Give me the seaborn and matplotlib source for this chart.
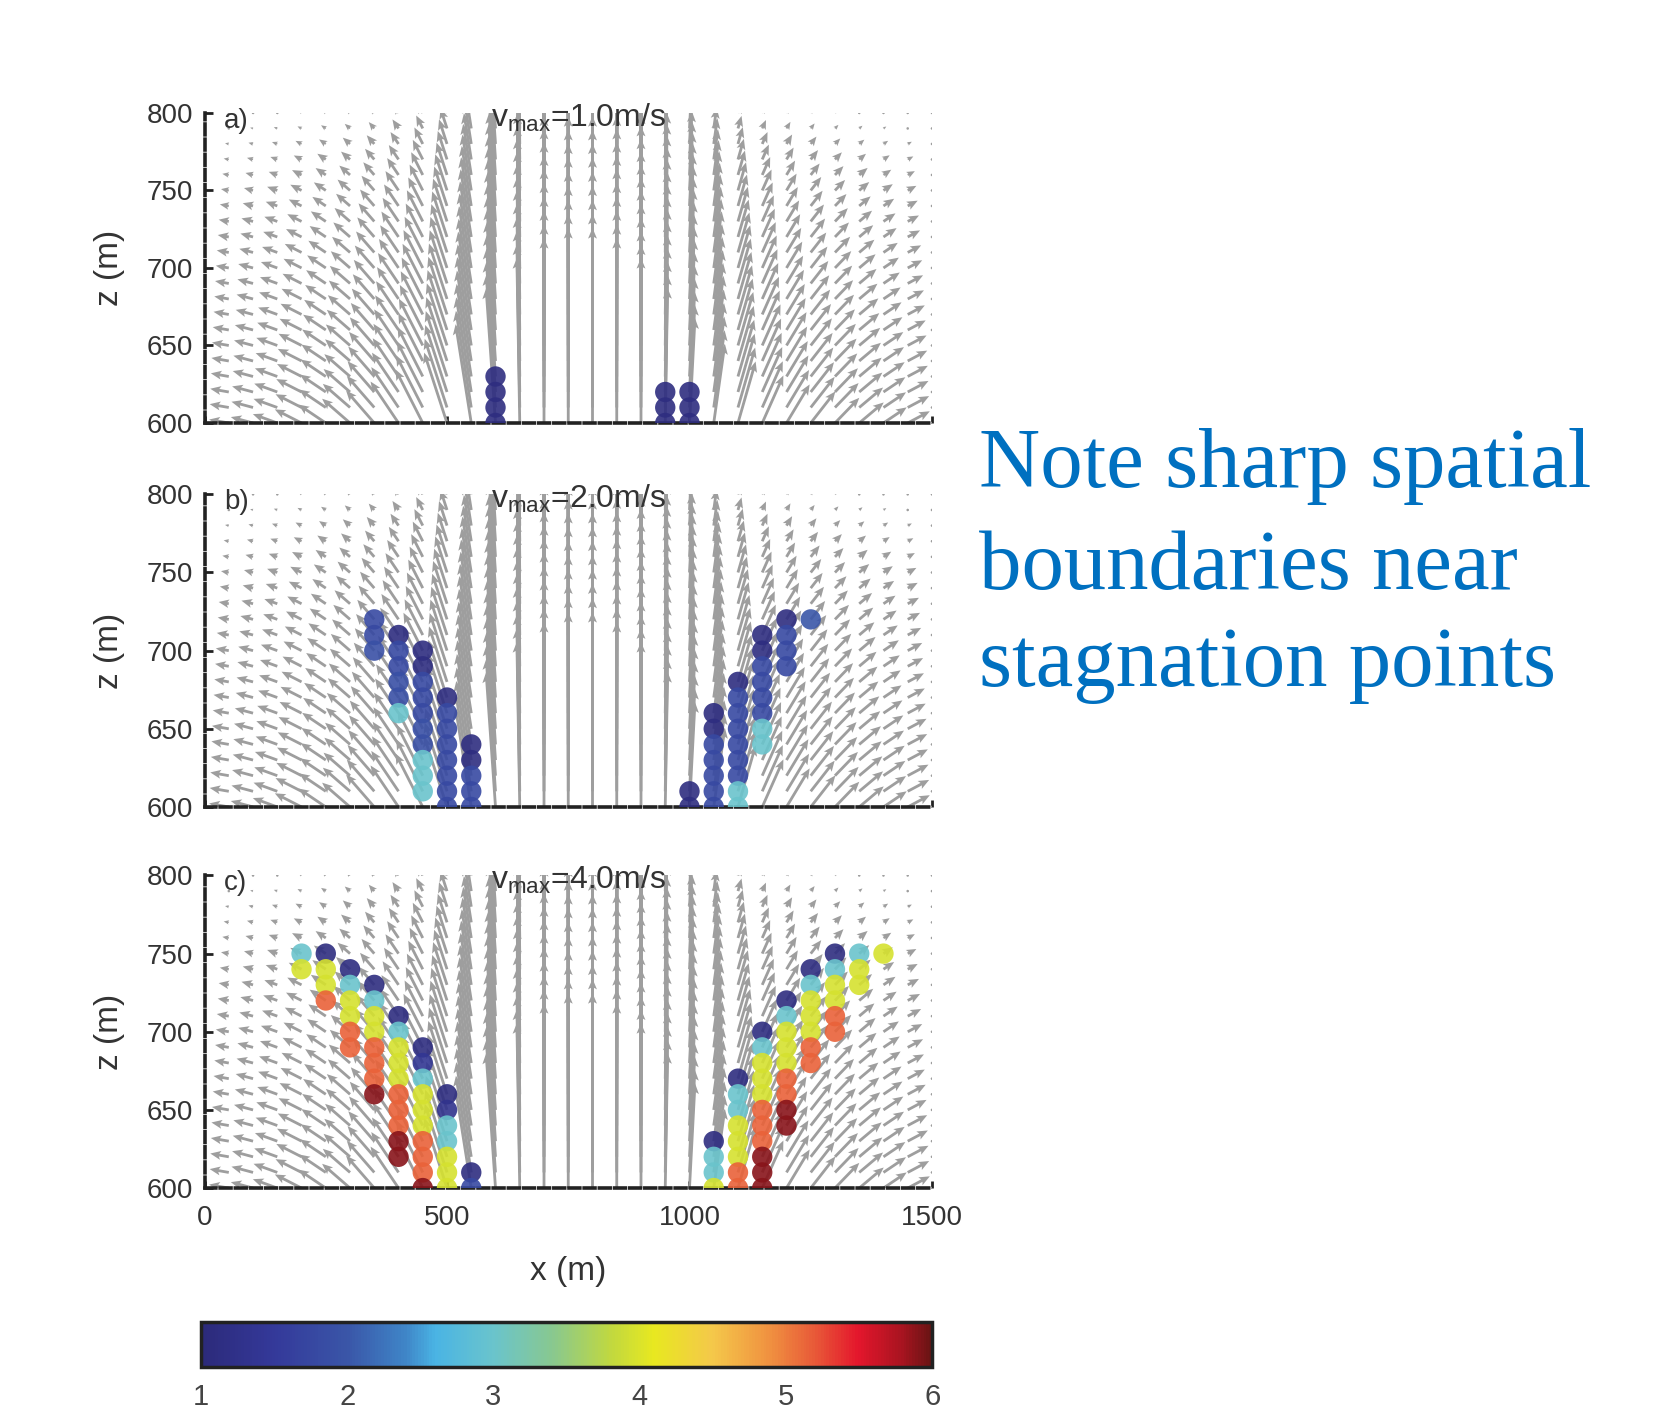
import numpy as np
import seaborn as sns
import matplotlib
import matplotlib.pyplot as plt
from matplotlib.colors import LinearSegmentedColormap, Normalize

sns.set_theme(style="white")
plt.rcParams['font.family'] = ['Liberation Sans', 'DejaVu Sans']
plt.rcParams['mathtext.fontset'] = 'custom'
plt.rcParams['mathtext.rm'] = 'Liberation Sans'

# grid of the velocity field
x_cols = [0, 50, 100, 150, 200, 250, 300, 350, 400, 450, 500, 550, 600, 650, 700, 750,
          800, 850, 900, 950, 1000, 1050, 1100, 1150, 1200, 1250, 1300, 1350, 1400, 1450, 1500]
z_rows = [600, 610, 620, 630, 640, 650, 660, 670, 680, 690, 700,
          710, 720, 730, 740, 750, 760, 770, 780, 790, 800]

# arrow direction per column (deg, 0 = right, 90 = up)
arrow_dir = [180, 170, 165, 160, 153, 146, 139, 131, 124, 117, 108, 99, 94, 91, 90, 90,
             90, 90, 90, 89, 87, 82, 74, 66, 59, 52, 46, 40, 34, 28, 24]
# arrow length on screen (px) at the bottom row and the top row
len_bottom = [0, 20, 23, 26, 30, 33, 37, 43, 50, 60, 74, 100, 135, 165, 185, 195,
              195, 185, 165, 135, 105, 80, 64, 52, 45, 40, 35, 32, 28, 25, 0]
len_top = [0, 0.5, 1, 1.5, 2, 3, 4, 5, 7, 10, 16, 30, 60, 100, 130, 150,
           150, 130, 100, 60, 30, 15, 8, 5, 4, 3, 2, 1.5, 1, 0.5, 0]
# how the length fades from bottom (1) to top (0)
row_profile = [1.00, 0.97, 0.94, 0.91, 0.88, 0.85, 0.81, 0.77, 0.73, 0.69, 0.65,
               0.60, 0.55, 0.50, 0.44, 0.38, 0.31, 0.24, 0.17, 0.09, 0.03]

# tracer points: x, z, value
a_x = [600, 600, 600, 600, 950, 950, 950, 1000, 1000, 1000]
a_z = [630, 620, 610, 600, 620, 610, 600, 620, 610, 600]
a_v = [1.1, 1.1, 1.1, 1.1, 1.1, 1.1, 1.1, 1.1, 1.1, 1.1]

b_x = [350, 350, 350,
       400, 400, 400, 400, 400, 400,
       450, 450, 450, 450, 450, 450, 450, 450, 450, 450,
       500, 500, 500, 500, 500, 500, 500, 500,
       550, 550, 550, 550, 550,
       1000, 1000,
       1050, 1050, 1050, 1050, 1050, 1050, 1050,
       1100, 1100, 1100, 1100, 1100, 1100, 1100, 1100, 1100,
       1150, 1150, 1150, 1150, 1150, 1150, 1150, 1150,
       1200, 1200, 1200, 1200,
       1250]
b_z = [720, 710, 700,
       710, 700, 690, 680, 670, 660,
       700, 690, 680, 670, 660, 650, 640, 630, 620, 610,
       670, 660, 650, 640, 630, 620, 610, 600,
       640, 630, 620, 610, 600,
       610, 600,
       660, 650, 640, 630, 620, 610, 600,
       680, 670, 660, 650, 640, 630, 620, 610, 600,
       710, 700, 690, 680, 670, 660, 650, 640,
       720, 710, 700, 690,
       720]
b_v = [1.8, 1.8, 1.9,
       1.1, 1.8, 1.8, 1.9, 1.9, 3.0,
       1.1, 1.1, 1.8, 1.8, 1.8, 1.9, 1.9, 3.0, 3.0, 3.0,
       1.1, 1.8, 1.8, 1.8, 1.8, 1.8, 1.8, 1.8,
       1.1, 1.1, 1.8, 1.8, 1.8,
       1.1, 1.1,
       1.1, 1.1, 1.8, 1.8, 1.8, 1.8, 1.8,
       1.1, 1.8, 1.8, 1.8, 1.8, 1.8, 1.8, 3.0, 3.0,
       1.1, 1.1, 1.8, 1.8, 1.8, 1.8, 3.0, 3.0,
       1.1, 1.8, 1.8, 1.8,
       2.0]

c_x = [200, 200,
       250, 250, 250, 250,
       300, 300, 300, 300, 300, 300,
       350, 350, 350, 350, 350, 350, 350, 350,
       400, 400, 400, 400, 400, 400, 400, 400, 400, 400,
       450, 450, 450, 450, 450, 450, 450, 450, 450, 450,
       500, 500, 500, 500, 500, 500, 500,
       550, 550,
       1050, 1050, 1050, 1050,
       1100, 1100, 1100, 1100, 1100, 1100, 1100, 1100,
       1150, 1150, 1150, 1150, 1150, 1150, 1150, 1150, 1150, 1150, 1150,
       1200, 1200, 1200, 1200, 1200, 1200, 1200, 1200, 1200,
       1250, 1250, 1250, 1250, 1250, 1250, 1250,
       1300, 1300, 1300, 1300, 1300, 1300,
       1350, 1350, 1350,
       1400]
c_z = [750, 740,
       750, 740, 730, 720,
       740, 730, 720, 710, 700, 690,
       730, 720, 710, 700, 690, 680, 670, 660,
       710, 700, 690, 680, 670, 660, 650, 640, 630, 620,
       690, 680, 670, 660, 650, 640, 630, 620, 610, 600,
       660, 650, 640, 630, 620, 610, 600,
       610, 600,
       630, 620, 610, 600,
       670, 660, 650, 640, 630, 620, 610, 600,
       700, 690, 680, 670, 660, 650, 640, 630, 620, 610, 600,
       720, 710, 700, 690, 680, 670, 660, 650, 640,
       740, 730, 720, 710, 700, 690, 680,
       750, 740, 730, 720, 710, 700,
       750, 740, 730,
       750]
c_v = [3.0, 3.95,
       1.1, 3.95, 3.95, 5.15,
       1.1, 3.0, 3.95, 3.95, 5.15, 5.15,
       1.1, 3.0, 3.95, 3.95, 5.15, 5.15, 5.15, 5.9,
       1.1, 3.0, 3.95, 3.95, 3.95, 5.15, 5.15, 5.15, 5.9, 5.9,
       1.1, 1.4, 3.0, 3.95, 3.95, 3.95, 5.15, 5.15, 5.15, 5.9,
       1.1, 1.3, 3.0, 3.0, 3.95, 3.95, 3.95,
       1.1, 1.8,
       1.1, 3.0, 3.0, 3.95,
       1.1, 3.0, 3.0, 3.95, 3.95, 3.95, 5.15, 5.15,
       1.1, 3.0, 3.95, 3.95, 3.95, 5.15, 5.15, 5.15, 5.9, 5.9, 5.9,
       1.1, 3.0, 3.95, 3.95, 3.95, 5.15, 5.15, 5.9, 5.9,
       1.1, 3.0, 3.95, 3.95, 3.95, 5.15, 5.15,
       1.1, 3.0, 3.95, 3.95, 5.15, 5.15,
       3.0, 3.95, 3.95,
       3.95]

panels = [("a)", "1.0", a_x, a_z, a_v),
          ("b)", "2.0", b_x, b_z, b_v),
          ("c)", "4.0", c_x, c_z, c_v)]

# colour scale sampled from the colour bar
cbar_pos = [0.0, 0.1, 0.2, 0.28, 0.32, 0.4, 0.48, 0.56, 0.62, 0.7, 0.78, 0.84, 0.9, 0.96, 1.0]
cbar_cols = ["#2c2a7a", "#34399a", "#3a56a8", "#3f86c8", "#4ab4e4", "#6ac4cc", "#88c890",
             "#c0d840", "#e8e820", "#f4c84a", "#f09040", "#e85a38", "#e4162c", "#a81420", "#6a1414"]
jetlike = LinearSegmentedColormap.from_list("jetlike", list(zip(cbar_pos, cbar_cols)))
norm = Normalize(1, 6)

W, H = 1678, 1410
fig = plt.figure(figsize=(W / 100, H / 100), dpi=100)

axes_boxes = [[0.1219, 0.700, 0.4335, 0.2199],
              [0.1219, 0.4277, 0.4335, 0.2217],
              [0.1219, 0.1574, 0.4335, 0.2217]]

X, Z = np.meshgrid(np.array(x_cols, float), np.array(z_rows, float))
theta = np.deg2rad(np.array(arrow_dir, float))[None, :]
lb = np.array(len_bottom, float)[None, :]
lt = np.array(len_top, float)[None, :]
prof = np.array(row_profile, float)[:, None]
L = lt + (lb - lt) * prof
U = L * np.cos(theta)
V = L * np.sin(theta)

TXT = '#333333'

for i, (lab, vmax, px, pz, pv) in enumerate(panels):
    ax = fig.add_axes(axes_boxes[i])
    ax.quiver(X, Z, U, V, angles='uv', scale_units='dots', scale=1, units='dots',
              width=2.8, headwidth=3.2, headlength=3.8, headaxislength=3.2,
              color='#9e9e9e', zorder=2)
    sns.scatterplot(x=px, y=pz, hue=pv, palette=jetlike, hue_norm=norm, legend=False,
                    s=215, linewidth=0, alpha=0.9, ax=ax, zorder=3)
    ax.set_xlim(0, 1500)
    ax.set_ylim(600, 800)
    ax.set_yticks([600, 650, 700, 750, 800])
    ax.set_xticks([0, 500, 1000, 1500])
    for s in ['top', 'right']:
        ax.spines[s].set_visible(False)
    for s in ['left', 'bottom']:
        ax.spines[s].set_color('#222222')
        ax.spines[s].set_linewidth(2.6)
        ax.spines[s].set_linestyle((0, (3, 1.2)))
    ax.tick_params(axis='y', direction='in', length=6, width=2, color='#222222',
                   labelsize=20, labelcolor=TXT, pad=8, left=True)
    ax.tick_params(axis='x', direction='in', length=5, width=2, color='#222222',
                   labelsize=20, labelcolor=TXT, pad=12, bottom=True)
    ax.set_ylabel('z (m)', fontsize=24, color=TXT, labelpad=16)
    ax.set_xlabel('')
    if i < 2:
        ax.set_xticklabels([])
    else:
        ax.set_xlabel('x (m)', fontsize=24, color=TXT, labelpad=18)
    ax.text(40, 795, lab, fontsize=20, color=TXT, va='center', ha='left', zorder=4)
    ax.text(590, 797, r'v$_\mathrm{max}$=' + vmax + 'm/s', fontsize=23, color=TXT,
            va='center', ha='left', zorder=4)

cax = fig.add_axes([0.1198, 0.0307, 0.4357, 0.032])
sm = matplotlib.cm.ScalarMappable(norm=norm, cmap=jetlike)
cb = fig.colorbar(sm, cax=cax, orientation='horizontal', ticks=[1, 2, 3, 4, 5, 6])
cb.outline.set_linewidth(2.5)
cb.outline.set_edgecolor('#222222')
cax.tick_params(direction='in', length=6, width=2, color='#222222', labelsize=21,
                labelcolor='#444444', pad=12)

note_lines = ["Note sharp spatial", "boundaries near", "stagnation points"]
note_y = [0.6546, 0.5823, 0.5135]
for line, y in zip(note_lines, note_y):
    fig.text(0.5834, y, line, fontsize=61, color='#0070C0', family='Liberation Serif',
             ha='left', va='baseline')

fig.savefig('out.png', dpi=100)
